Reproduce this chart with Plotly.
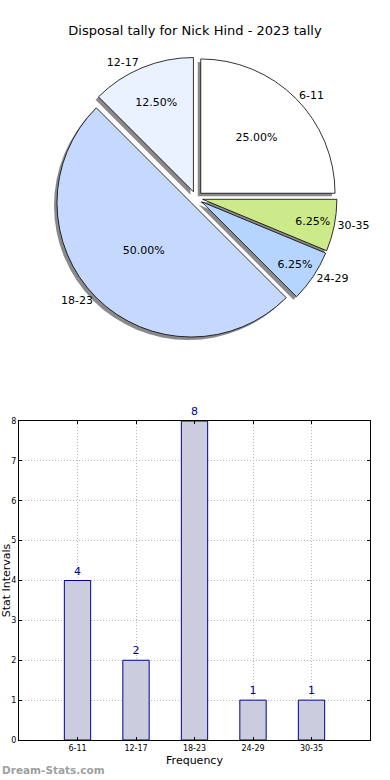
import plotly.graph_objects as go

categories = ["6-11", "12-17", "18-23", "24-29", "30-35"]
counts = [4, 2, 8, 1, 1]
slice_colors = ["#ffffff", "#eaf1ff", "#c5d9ff", "#b5d5ff", "#cdea8a"]
y_ticks = [0, 1, 2, 3, 4, 5, 6, 7, 8]

W, H = 390, 780
FONT = "DejaVu Sans"

def px(x):
    return x / W

def py(y):
    return 1 - y / H

# pie geometry (pixels)
cx, cy, half = 196, 198, 141
pull = 0.05
dom_x = [px(cx - half), px(cx + half)]
dom_y = [py(cy + half), py(cy - half)]
sh = 3  # shadow offset
shadow_x = [px(cx - half - sh), px(cx + half - sh)]
shadow_y = [py(cy + half + sh), py(cy - half + sh)]

common = dict(labels=categories, values=counts, sort=False, direction="counterclockwise",
              rotation=0, pull=[pull] * len(counts), showlegend=False)

fig = go.Figure()

# shadow
fig.add_trace(go.Pie(
    **common, marker=dict(colors=["#8a8a8a"] * len(counts), line=dict(width=0)),
    textinfo="none", hoverinfo="skip", domain=dict(x=shadow_x, y=shadow_y),
))

# main pie with percentages inside
fig.add_trace(go.Pie(
    **common, marker=dict(colors=slice_colors, line=dict(color="black", width=0.8)),
    texttemplate="%{percent:.2%}", textposition="inside", insidetextorientation="horizontal",
    textfont=dict(family=FONT, size=11, color="black"),
    domain=dict(x=dom_x, y=dom_y),
))

# outside labels
fig.add_trace(go.Pie(
    **common, marker=dict(colors=["rgba(0,0,0,0)"] * len(counts), line=dict(width=0)),
    textinfo="label", textposition="outside", hoverinfo="skip",
    outsidetextfont=dict(family=FONT, size=11, color="black"),
    domain=dict(x=dom_x, y=dom_y),
))

# bar chart
fig.add_trace(go.Bar(
    x=categories, y=counts, width=0.45,
    marker=dict(color="#ccccdf", line=dict(color="#00008b", width=1)),
    texttemplate="%{y}", textposition="outside", cliponaxis=False,
    textfont=dict(family=FONT, size=11, color="#00008b"), showlegend=False,
    xaxis="x", yaxis="y",
))

grid = dict(showgrid=True, gridcolor="#b8b8b8", griddash="1px,2px", gridwidth=1)

fig.update_layout(
    width=W, height=H, margin=dict(l=0, r=0, t=0, b=0),
    paper_bgcolor="white", plot_bgcolor="white",
    font=dict(family=FONT, size=11, color="black"),
    title=dict(text="Disposal tally for Nick Hind - 2023 tally", x=0.5, xanchor="center",
               y=py(30), yanchor="middle", font=dict(family=FONT, size=13, color="black")),
    xaxis=dict(domain=[px(19), px(370)], range=[-1, 5], type="category",
               showline=True, linecolor="black", linewidth=1, mirror="ticks",
               ticks="inside", ticklen=3, tickcolor="black", **grid,
               tickfont=dict(family=FONT, size=8, color="black"),
               title=dict(text="Frequency", font=dict(family=FONT, size=11), standoff=4),
               anchor="y", automargin=False, zeroline=False),
    yaxis=dict(domain=[py(740), py(421)], range=[0, 8], tickvals=y_ticks,
               showline=True, linecolor="black", linewidth=1, mirror="ticks",
               ticks="inside", ticklen=3, tickcolor="black", **grid,
               tickfont=dict(family=FONT, size=8, color="black"),
               title=dict(text="Stat Intervals", font=dict(family=FONT, size=11), standoff=0),
               anchor="x", automargin=False, zeroline=False),
    annotations=[dict(text="<b>Dream-Stats.com</b>", x=0, y=py(770), xref="paper", yref="paper",
                      xanchor="left", yanchor="middle", showarrow=False,
                      font=dict(family=FONT, size=10.5, color="#a0a0a0"))],
)

fig.write_html("out.html", config={"displayModeBar": False},
               post_script="document.body.style.margin='0';document.body.style.overflow='hidden';")
